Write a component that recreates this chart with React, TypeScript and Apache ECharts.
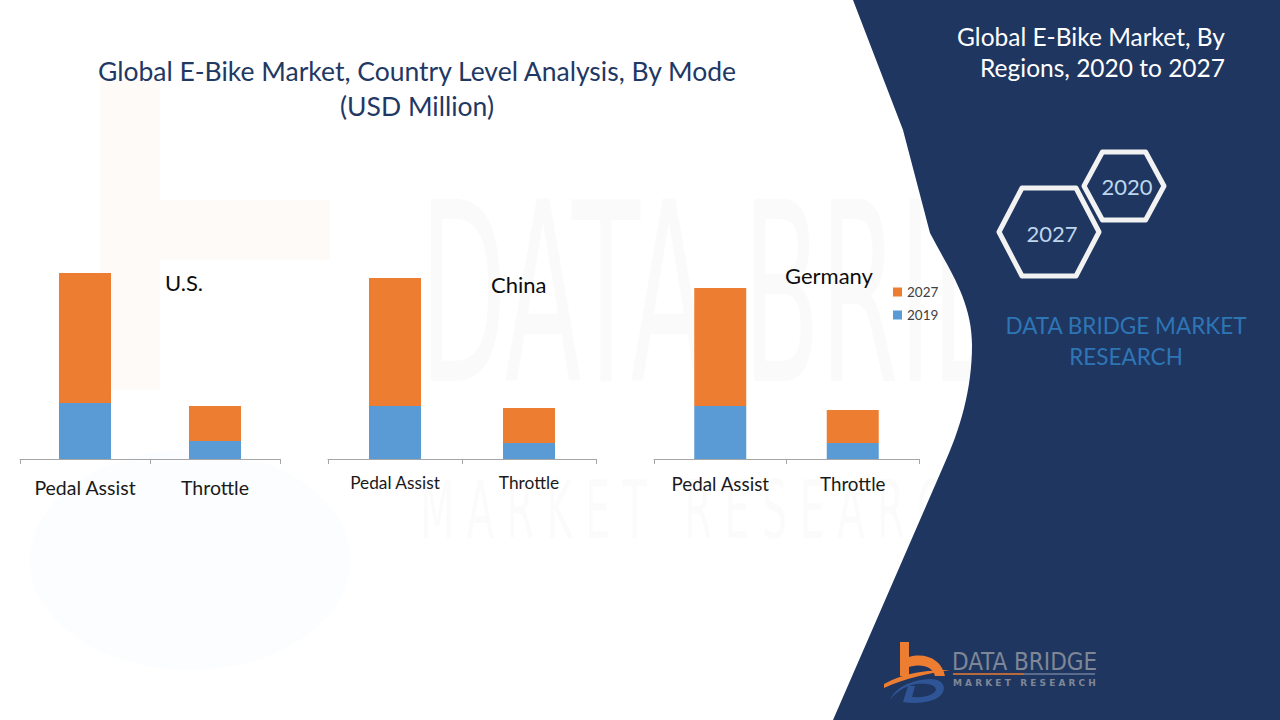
import React, { useEffect, useRef } from "react";
import * as echarts from "echarts";

// ---- data (arbitrary USD Million units) ----
const modes = ["Pedal Assist", "Throttle"];
const countries = ["U.S.", "China", "Germany"];
const us2019 = [56, 18];
const us2027 = [130, 35];
const china2019 = [53, 16];
const china2027 = [128, 35];
const germany2019 = [53, 16];
const germany2027 = [118, 33];
const legendNames = ["2027", "2019"];

const ORANGE = "#ed7d31";
const BLUE = "#5b9bd5";
const NAVY = "#1f3660";
const FONT = "Lato, 'Open Sans', sans-serif";

let registered = false;
function registerShapes() {
  if (registered) return;
  registered = true;
  echarts.graphic.registerShape(
    "panelShape",
    echarts.graphic.extendPath(
      "M853,0 L903,130 L930,233 C948,268 972,300 972,345 C972,390 960,430 943,467 L833,720 L1280,720 L1280,0 Z",
      {}
    )
  );
  echarts.graphic.registerShape(
    "logoB",
    echarts.graphic.extendPath(
      "M900,642 L909,642 L909,657 C926,652 942,660 945,676 L935,676 C933,667 922,663 909,667 L909,676 L900,676 Z",
      {}
    )
  );
  echarts.graphic.registerShape(
    "logoSwoosh",
    echarts.graphic.extendPath(
      "M884,684 C905,672 930,670 950,670 C930,673 905,678 884,688 Z",
      {}
    )
  );
  echarts.graphic.registerShape(
    "logoD",
    echarts.graphic.extendPath(
      "M890,700 C895,688 910,680 930,679 C945,679 947,690 940,696 C932,703 915,704 903,702 L908,686 L915,686 L912,697 C922,698 933,696 936,690 C936,684 926,683 916,684 C905,686 896,692 890,700 Z",
      {}
    )
  );
}

function hexagon(cx: number, cy: number, w: number, h: number) {
  const q = w * 0.23;
  return [
    [cx - w / 2, cy],
    [cx - w / 2 + q, cy - h / 2],
    [cx + w / 2 - q, cy - h / 2],
    [cx + w / 2, cy],
    [cx + w / 2 - q, cy + h / 2],
    [cx - w / 2 + q, cy + h / 2],
  ];
}

export default function App() {
  const ref = useRef<HTMLDivElement>(null);

  useEffect(() => {
    if (!ref.current) return;
    registerShapes();
    const chart = echarts.init(ref.current, undefined, { renderer: "svg" });

    const grids = [
      { left: 20, width: 260, top: 259, height: 200 },
      { left: 328, width: 268, top: 259, height: 200 },
      { left: 654, width: 265, top: 259, height: 200 },
    ];
    const labelSizes = [19.5, 17.3, 18.8];
    const labelMargins = [18, 15, 15];
    const pairs = [
      [us2019, us2027],
      [china2019, china2027],
      [germany2019, germany2027],
    ];

    const xAxes = grids.map((_, i) => ({
      type: "category",
      gridIndex: i,
      data: modes,
      axisLine: { lineStyle: { color: "#a6a6a6", width: 1 } },
      axisTick: {
        show: true,
        interval: 0,
        length: 5,
        lineStyle: { color: "#a6a6a6" },
      },
      axisLabel: {
        interval: 0,
        hideOverlap: false,
        color: "#1a1a1a",
        fontSize: labelSizes[i],
        fontFamily: FONT,
        margin: labelMargins[i],
      },
    }));
    const yAxes = grids.map((_, i) => ({
      type: "value",
      gridIndex: i,
      min: 0,
      max: 200,
      show: false,
      splitLine: { show: false },
    }));

    const series: any[] = [];
    pairs.forEach(([v19, v27], i) => {
      series.push({
        name: "2019",
        type: "bar",
        xAxisIndex: i,
        yAxisIndex: i,
        stack: "s" + i,
        barWidth: 52,
        itemStyle: { color: BLUE },
        data: v19,
      });
      series.push({
        name: "2027",
        type: "bar",
        xAxisIndex: i,
        yAxisIndex: i,
        stack: "s" + i,
        barWidth: 52,
        itemStyle: { color: ORANGE },
        data: v27,
      });
    });

    const countryPos = [
      { x: 165, y: 282, size: 22 },
      { x: 491, y: 284, size: 22 },
      { x: 785, y: 275, size: 22 },
    ];

    const graphic: any[] = [
      // faint watermark on the white side
      {
        type: "text",
        z: -10,
        left: 420,
        top: 170,
        style: {
          text: "DATA BRIDGE",
          fontSize: 250,
          fontFamily: "'DejaVu Sans Condensed', sans-serif",
          fill: "rgba(120,120,120,0.035)",
        },
        scaleX: 0.5,
      },
      {
        type: "text",
        z: -10,
        left: 420,
        top: 470,
        style: {
          text: "M A R K E T   R E S E A R C H",
          fontSize: 80,
          fontFamily: "'DejaVu Sans Condensed', sans-serif",
          fill: "rgba(120,120,120,0.03)",
        },
        scaleX: 0.55,
      },
      {
        type: "rect",
        z: -10,
        shape: { x: 100, y: 80, width: 60, height: 310 },
        style: { fill: "rgba(237,125,49,0.04)" },
      },
      {
        type: "rect",
        z: -10,
        shape: { x: 160, y: 200, width: 170, height: 60 },
        style: { fill: "rgba(237,125,49,0.035)" },
      },
      {
        type: "ellipse",
        z: -10,
        shape: { cx: 190, cy: 560, rx: 160, ry: 110 },
        style: { fill: "rgba(91,155,213,0.025)" },
      },
      // navy panel
      {
        type: "panelShape",
        z: -5,
        shape: {},
        style: { fill: NAVY },
      },
      {
        type: "text",
        z: 10,
        style: {
          x: 1225,
          y: 21,
          text: "Global E-Bike Market, By\nRegions, 2020 to 2027",
          align: "right",
          verticalAlign: "top",
          fontSize: 24.5,
          lineHeight: 31,
          fontFamily: FONT,
          fill: "#ffffff",
        },
      },
      {
        type: "polygon",
        z: 10,
        shape: { points: hexagon(1124, 186, 80, 68) },
        style: { fill: NAVY, stroke: "#f2f2f2", lineWidth: 5, lineJoin: "round" },
      },
      {
        type: "text",
        z: 11,
        style: {
          x: 1127,
          y: 186,
          text: "2020",
          align: "center",
          verticalAlign: "middle",
          fontSize: 22,
          fontFamily: FONT,
          fill: "#bdd7ee",
        },
      },
      {
        type: "polygon",
        z: 10,
        shape: { points: hexagon(1049, 232, 100, 88) },
        style: { fill: NAVY, stroke: "#f2f2f2", lineWidth: 5, lineJoin: "round" },
      },
      {
        type: "text",
        z: 11,
        style: {
          x: 1052,
          y: 233,
          text: "2027",
          align: "center",
          verticalAlign: "middle",
          fontSize: 22,
          fontFamily: FONT,
          fill: "#bdd7ee",
        },
      },
      {
        type: "text",
        z: 10,
        style: {
          x: 1126,
          y: 341,
          text: "DATA BRIDGE MARKET\nRESEARCH",
          align: "center",
          verticalAlign: "middle",
          fontSize: 22.5,
          lineHeight: 31,
          fontFamily: FONT,
          fill: "#2e75b6",
        },
      },
      // bottom logo
      { type: "logoB", z: 12, shape: {}, style: { fill: ORANGE } },
      { type: "logoSwoosh", z: 12, shape: {}, style: { fill: ORANGE } },
      { type: "logoD", z: 12, shape: {}, style: { fill: "#2f5597" } },
      {
        type: "text",
        z: 12,
        style: {
          x: 952,
          y: 662,
          text: "DATA BRIDGE",
          verticalAlign: "middle",
          fontSize: 24,
          fontFamily: "'DejaVu Sans Condensed', sans-serif",
          fill: "#7f8796",
        },
      },
      {
        type: "line",
        z: 12,
        shape: { x1: 953, y1: 674, x2: 1024, y2: 674 },
        style: { stroke: ORANGE, lineWidth: 1.5 },
      },
      {
        type: "line",
        z: 12,
        shape: { x1: 1024, y1: 674, x2: 1095, y2: 674 },
        style: { stroke: "#6f7f9a", lineWidth: 1.5 },
      },
      {
        type: "text",
        z: 12,
        style: {
          x: 953,
          y: 683,
          text: "M A R K E T   R E S E A R C H",
          verticalAlign: "middle",
          fontSize: 9,
          fontWeight: "bold",
          fontFamily: "'DejaVu Sans', sans-serif",
          fill: "#7f8796",
        },
      },
    ];

    countries.forEach((c, i) => {
      graphic.push({
        type: "text",
        z: 10,
        style: {
          x: countryPos[i].x,
          y: countryPos[i].y,
          text: c,
          verticalAlign: "middle",
          fontSize: countryPos[i].size,
          fontFamily: FONT,
          fill: "#0d0d0d",
        },
      });
    });

    chart.setOption({
      animation: false,
      backgroundColor: "#ffffff",
      title: {
        text: "Global E-Bike Market, Country Level Analysis, By Mode\n(USD Million)",
        left: 412,
        top: 48,
        textAlign: "center",
        textStyle: {
          fontSize: 26.5,
          lineHeight: 35,
          fontWeight: "normal",
          color: "#1f3864",
          fontFamily: FONT,
        },
      },
      legend: {
        data: legendNames,
        orient: "vertical",
        left: 893,
        top: 285,
        padding: 0,
        itemWidth: 9,
        itemHeight: 9,
        itemGap: 9,
        icon: "rect",
        textStyle: { fontSize: 13.5, color: "#404040", fontFamily: FONT },
      },
      grid: grids,
      xAxis: xAxes,
      yAxis: yAxes,
      series,
      graphic,
    });

    return () => chart.dispose();
  }, []);

  return (
    <div
      ref={ref}
      style={{ position: "fixed", left: 0, top: 0, width: 1280, height: 720 }}
    />
  );
}
